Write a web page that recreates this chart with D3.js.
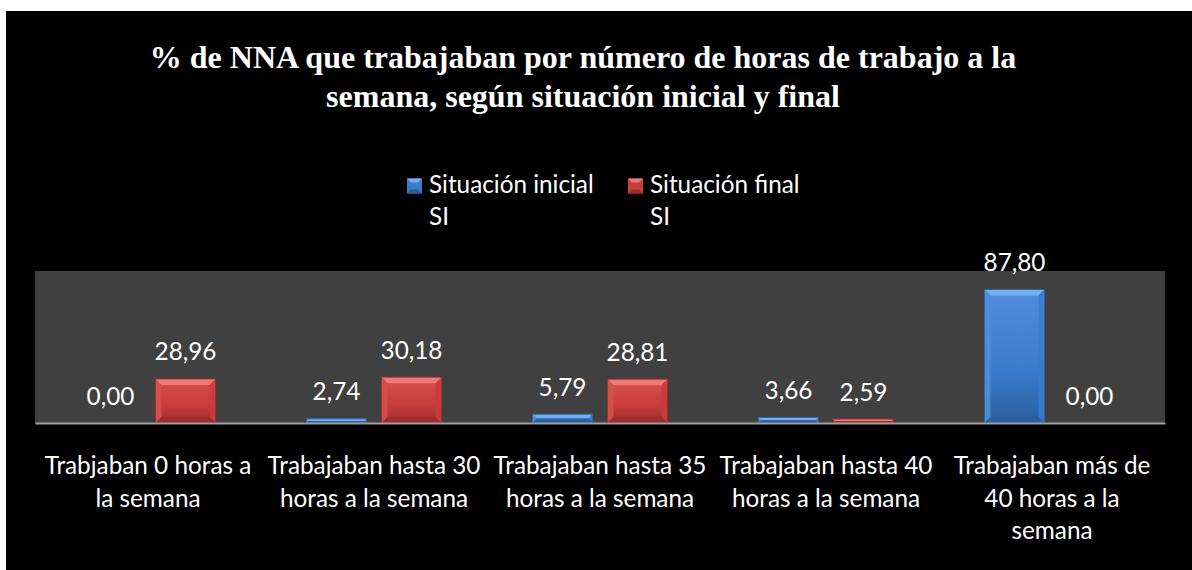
<!DOCTYPE html>
<html><head><meta charset="utf-8">
<script src="https://cdn.jsdelivr.net/npm/d3@7"></script>
<style>html,body{margin:0;padding:0;background:#fff;}svg{display:block;}</style>
</head><body><svg id="c" width="1192" height="570"></svg>
<script>
const titleLines = ["% de NNA que trabajaban por número de horas de trabajo a la", "semana, según situación inicial y final"];
const categories = ["Trabjaban 0 horas a\nla semana", "Trabajaban hasta 30\nhoras a la semana", "Trabajaban hasta 35\nhoras a la semana", "Trabajaban hasta 40\nhoras a la semana", "Trabajaban más de\n40 horas a la\nsemana"];
const seriesNames = ["Situación inicial\nSI", "Situación final\nSI"];
const inicial = [0.00, 2.74, 5.79, 3.66, 87.80];
const final = [28.96, 30.18, 28.81, 2.59, 0.00];
const yDomain = [0, 100];

const svg = d3.select("#c");
const W = 1192, H = 570;
const font = "Lato, 'Open Sans', sans-serif";
const fs = 24.3;

svg.append("rect").attr("x", 6).attr("y", 11).attr("width", W - 6).attr("height", H - 11).attr("fill", "#000");

const plot = {x0: 35, x1: 1165, y0: 271, y1: 423};
svg.append("rect").attr("x", plot.x0).attr("y", plot.y0).attr("width", plot.x1 - plot.x0).attr("height", plot.y1 - plot.y0).attr("fill", "#404040");

const x0 = d3.scaleBand().domain(d3.range(categories.length)).range([plot.x0, plot.x1]).padding(0);
const x1 = d3.scaleBand().domain([0, 1]).range([45.5, x0.bandwidth() - 45.5]).paddingInner(0.2).paddingOuter(0);
const y = d3.scaleLinear().domain(yDomain).range([plot.y1, plot.y0]);

const defs = svg.append("defs");
const pal = [
  {main: "#3a7ccc", light: "#76adf0", dark: "#2a5f9f", side: "#4f8edc"},
  {main: "#c83c3c", light: "#f07a7a", dark: "#9c2c2c", side: "#d65050"}
];
pal.forEach((p, i) => {
  const g = defs.append("linearGradient").attr("id", "g" + i).attr("x1", 0).attr("x2", 0).attr("y1", 0).attr("y2", 1);
  g.append("stop").attr("offset", "0%").attr("stop-color", p.side);
  g.append("stop").attr("offset", "60%").attr("stop-color", p.main);
  g.append("stop").attr("offset", "100%").attr("stop-color", p.dark);
});

const series = [inicial, final];
const gBars = svg.append("g");
series.forEach((vals, si) => {
  vals.forEach((v, ci) => {
    const bx = x0(ci) + x1(si), bw = x1.bandwidth();
    const top = y(v), bot = y(0), bh = bot - top;
    if (bh > 0.5) {
      const gb = gBars.append("g");
      gb.append("rect").attr("x", bx).attr("y", top).attr("width", bw).attr("height", bh).attr("fill", "url(#g" + si + ")");
      const b = Math.min(6, bh / 2, bw / 2);
      gb.append("path").attr("d", `M${bx},${top}L${bx + bw},${top}L${bx + bw - b},${top + b}L${bx + b},${top + b}Z`).attr("fill", pal[si].light);
      gb.append("path").attr("d", `M${bx},${top}L${bx + b},${top + b}L${bx + b},${bot - b}L${bx},${bot}Z`).attr("fill", pal[si].side).attr("opacity", 0.9);
      gb.append("path").attr("d", `M${bx + bw},${top}L${bx + bw - b},${top + b}L${bx + bw - b},${bot - b}L${bx + bw},${bot}Z`).attr("fill", pal[si].main).attr("opacity", 0.9);
      gb.append("path").attr("d", `M${bx},${bot}L${bx + b},${bot - b}L${bx + bw - b},${bot - b}L${bx + bw},${bot}Z`).attr("fill", pal[si].dark);
      gb.append("rect").attr("x", bx).attr("y", top).attr("width", bw).attr("height", bh).attr("fill", "none").attr("stroke", pal[si].dark).attr("stroke-width", 0.8);
    }
    gBars.append("text").attr("x", bx + bw / 2).attr("y", top - 18.5)
      .attr("text-anchor", "middle").attr("fill", "#fff").attr("font-family", font).attr("font-size", fs)
      .text(d3.format(".2f")(v).replace(".", ","));
  });
});

const xAxis = d3.axisBottom(x0).tickSize(0).tickFormat("");
const ax = svg.append("g").attr("transform", `translate(0,${plot.y1})`).call(xAxis);
ax.select(".domain").attr("stroke", "#a0a0a0").attr("stroke-width", 2);

categories.forEach((c, i) => {
  const t = svg.append("text").attr("x", x0(i) + x0.bandwidth() / 2).attr("y", 474)
    .attr("text-anchor", "middle").attr("fill", "#fff").attr("font-family", font).attr("font-size", fs);
  c.split("\n").forEach((ln, k) => {
    t.append("tspan").attr("x", x0(i) + x0.bandwidth() / 2).attr("dy", k === 0 ? 0 : 32.5).text(ln);
  });
});

const tt = svg.append("text").attr("x", 583).attr("y", 68).attr("text-anchor", "middle").attr("fill", "#fff")
  .attr("font-family", "'Liberation Serif', 'Times New Roman', serif").attr("font-weight", "bold").attr("font-size", 32);
titleLines.forEach((ln, k) => tt.append("tspan").attr("x", 583).attr("dy", k === 0 ? 0 : 39).text(ln));

const legX = [407, 628];
seriesNames.forEach((n, i) => {
  const g = svg.append("g");
  const s = 15, ly = 178.5;
  g.append("rect").attr("x", legX[i]).attr("y", ly).attr("width", s).attr("height", s).attr("fill", pal[i].main);
  g.append("path").attr("d", `M${legX[i]},${ly}L${legX[i] + s},${ly}L${legX[i] + s - 4},${ly + 4}L${legX[i] + 4},${ly + 4}Z`).attr("fill", pal[i].light);
  g.append("path").attr("d", `M${legX[i]},${ly + s}L${legX[i] + s},${ly + s}L${legX[i] + s - 4},${ly + s - 4}L${legX[i] + 4},${ly + s - 4}Z`).attr("fill", pal[i].dark);
  const t = g.append("text").attr("x", legX[i] + 22).attr("y", 193).attr("fill", "#fff").attr("font-family", font).attr("font-size", fs);
  n.split("\n").forEach((ln, k) => t.append("tspan").attr("x", legX[i] + 22).attr("dy", k === 0 ? 0 : 32).text(ln));
});
</script></body></html>
